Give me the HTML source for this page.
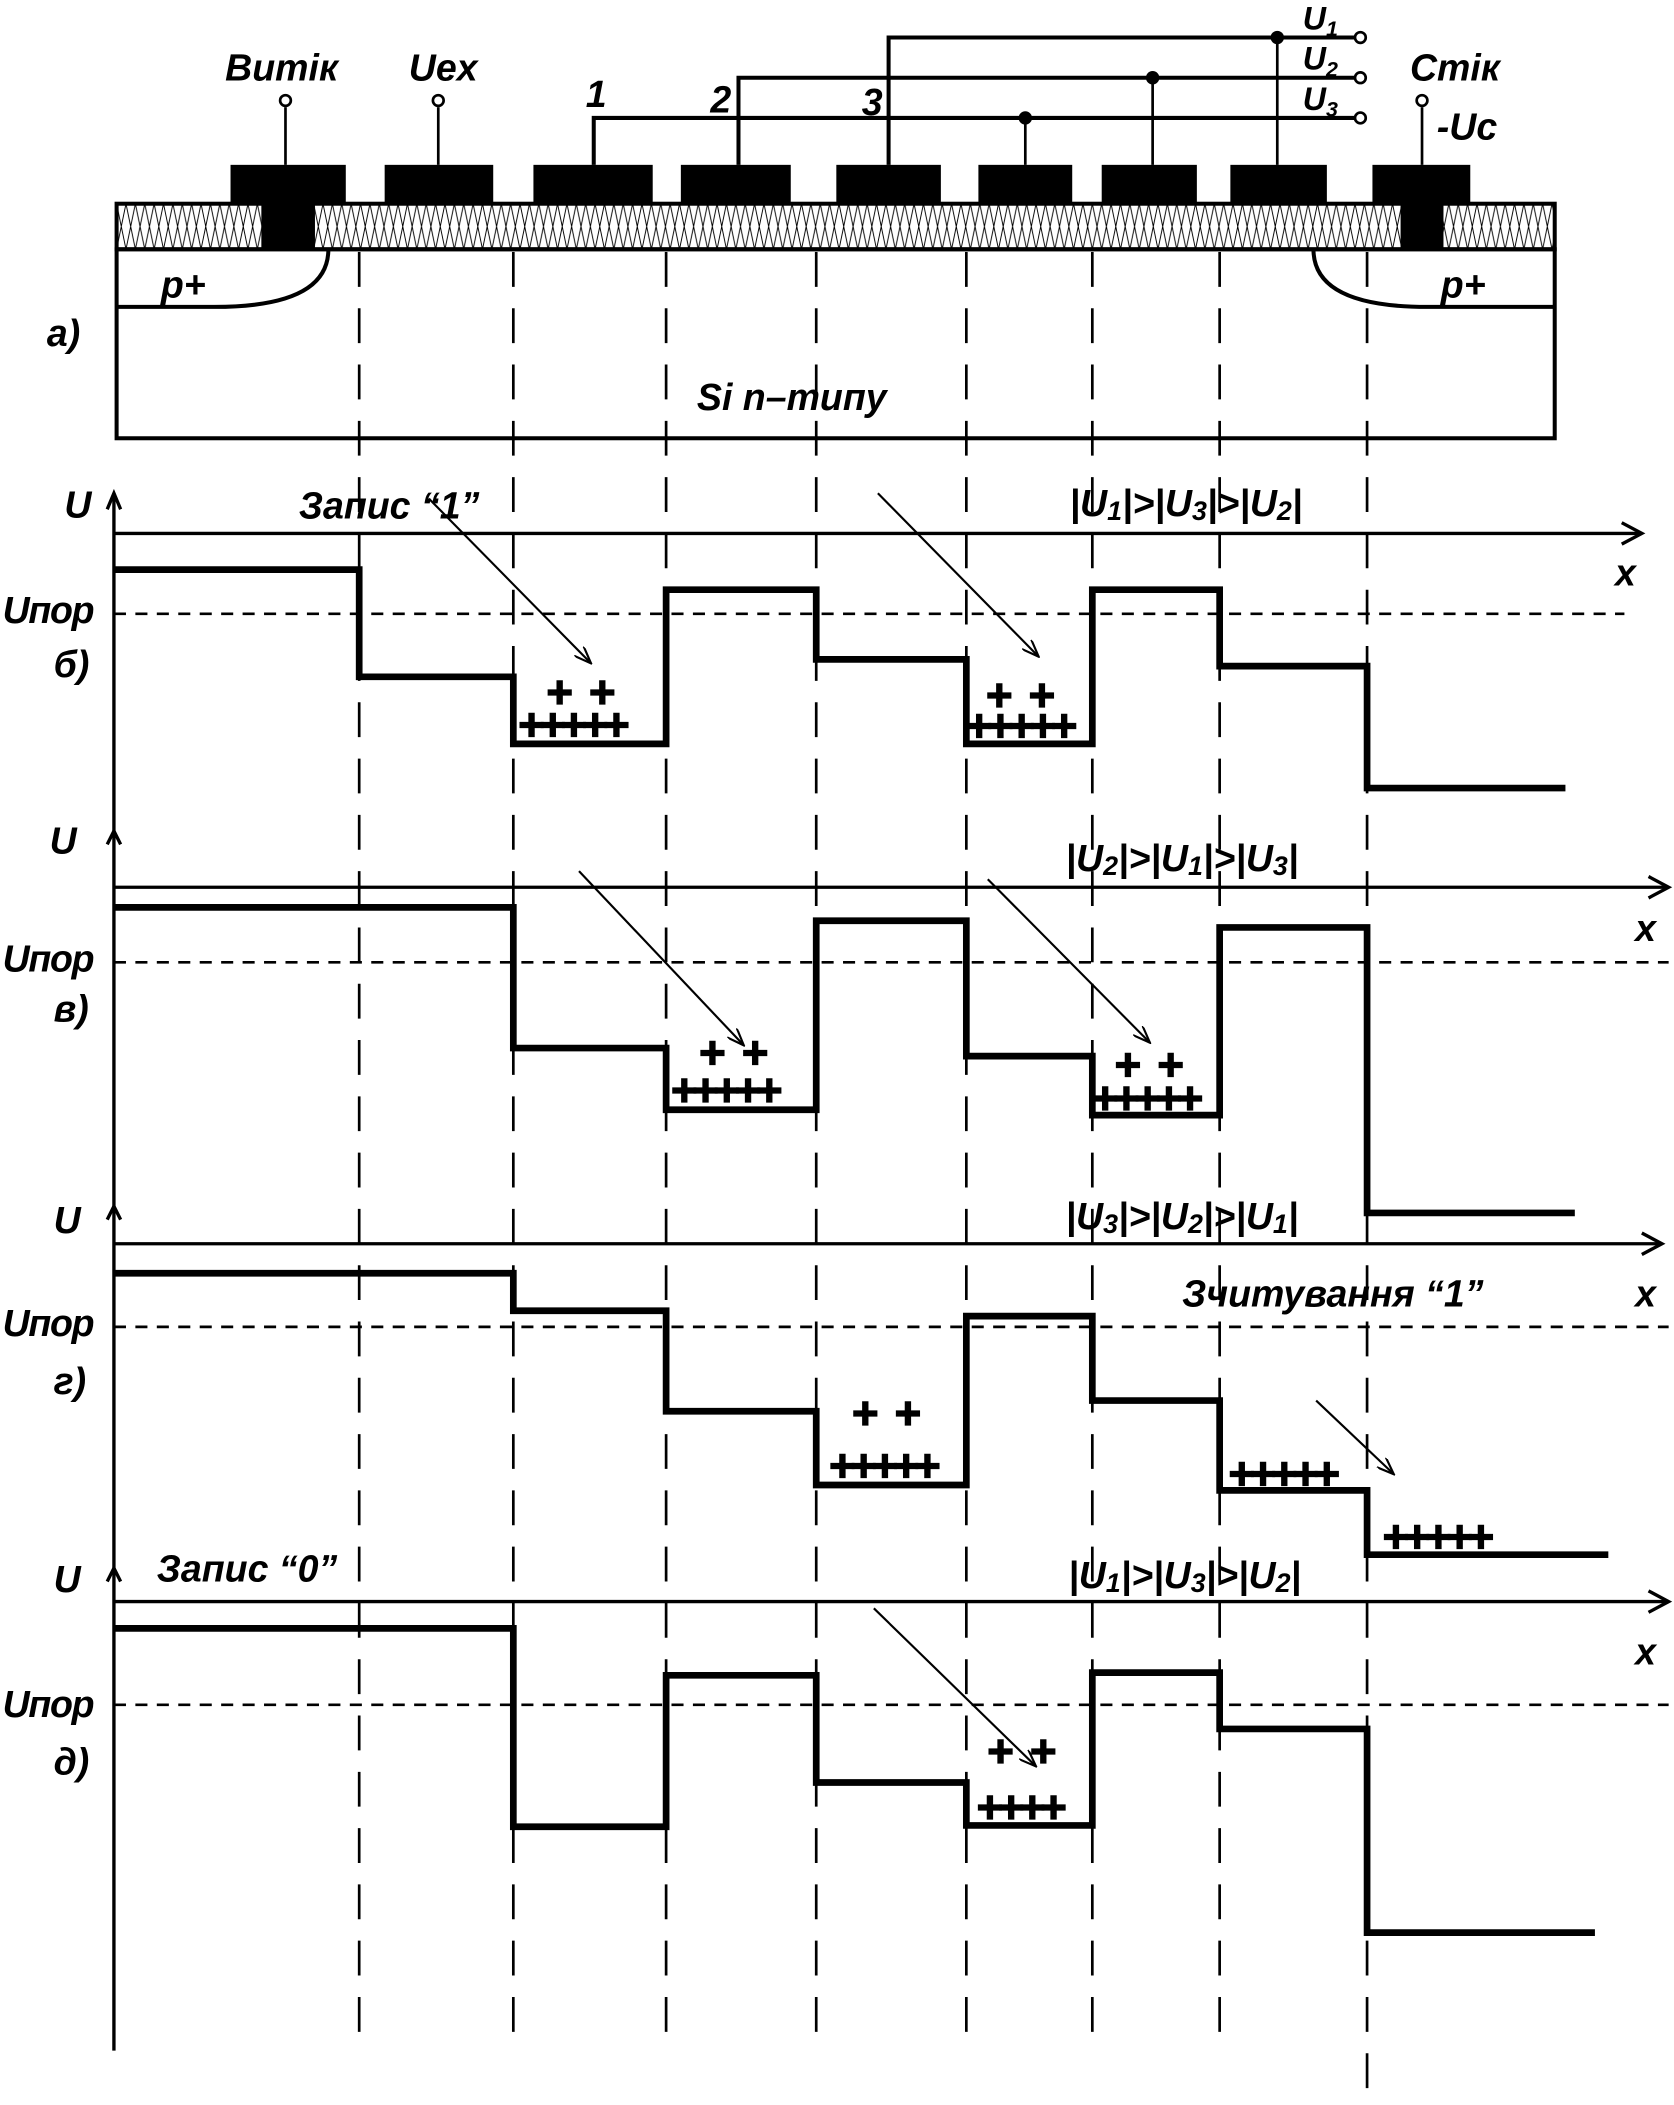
<!DOCTYPE html>
<html><head><meta charset="utf-8"><style>
html,body{margin:0;padding:0;background:#fff}
svg{display:block}
text{font-family:"Liberation Sans",sans-serif;font-weight:bold;font-style:italic;fill:#000}
.p{font-style:normal;font-size:34px;stroke:#000;stroke-width:1}
</style></head><body>
<svg width="1674" height="2105" viewBox="0 0 1249 1570.6" preserveAspectRatio="none" xmlns="http://www.w3.org/2000/svg">
<defs>
<pattern id="h" width="14" height="34" patternUnits="userSpaceOnUse" x="87" y="152">
<path d="M0,0 L7,34 M7,0 L14,34 M7,0 L0,34 M14,0 L7,34" stroke="#000" stroke-width="0.7"/>
</pattern>
<marker id="ar" markerWidth="14" markerHeight="10" refX="13" refY="5" orient="auto" markerUnits="userSpaceOnUse">
<path d="M0,0 L13,5 L0,10" fill="none" stroke="#000" stroke-width="1.6"/>
</marker>
</defs>
<rect x="87" y="152" width="1073" height="34" fill="url(#h)" stroke="#000" stroke-width="3"/>
<rect x="87" y="186" width="1073" height="141" fill="none" stroke="#000" stroke-width="3"/>
<path d="M87,229 L160,229 Q245,229 245,186" fill="none" stroke="#000" stroke-width="3"/>
<path d="M1160,229 L1065,229 Q980,229 980,186" fill="none" stroke="#000" stroke-width="3"/>
<g fill="#000">
<rect x="172" y="123" width="86" height="29"/><rect x="195" y="150" width="40" height="36"/>
<rect x="287" y="123" width="81" height="29"/>
<rect x="398" y="123" width="89" height="29"/>
<rect x="508" y="123" width="82" height="29"/>
<rect x="624" y="123" width="78" height="29"/>
<rect x="730" y="123" width="70" height="29"/>
<rect x="822" y="123" width="71" height="29"/>
<rect x="918" y="123" width="72" height="29"/>
<rect x="1024" y="123" width="73" height="29"/><rect x="1045" y="150" width="32" height="36"/>
</g>
<g stroke="#000" stroke-width="2" fill="none">
<line x1="213" y1="80" x2="213" y2="123"/><circle cx="213" cy="75" r="4" fill="#fff"/>
<line x1="327" y1="80" x2="327" y2="123"/><circle cx="327" cy="75" r="4" fill="#fff"/>
<line x1="1061" y1="80" x2="1061" y2="123"/><circle cx="1061" cy="75" r="4" fill="#fff"/>
<polyline points="443,123 443,88 1011,88" stroke-width="3"/>
<polyline points="551,123 551,58 1011,58" stroke-width="3"/>
<polyline points="663,123 663,28 1011,28" stroke-width="3"/>
<line x1="765" y1="88" x2="765" y2="123"/>
<line x1="860" y1="58" x2="860" y2="123"/>
<line x1="953" y1="28" x2="953" y2="123"/>
<circle cx="1015" cy="88" r="4" fill="#fff"/><circle cx="1015" cy="58" r="4" fill="#fff"/><circle cx="1015" cy="28" r="4" fill="#fff"/>
</g>
<g fill="#000"><circle cx="765" cy="88" r="5"/><circle cx="860" cy="58" r="5"/><circle cx="953" cy="28" r="5"/></g>
<text x="168" y="60" font-size="28">Витік</text>
<text x="305" y="60" font-size="28">Uex</text>
<text x="437" y="80" font-size="28" font-style="normal">1</text>
<text x="530" y="84" font-size="28" font-style="normal">2</text>
<text x="643" y="86" font-size="28" font-style="normal">3</text>
<text x="972" y="22" font-size="24" font-style="normal" font-family="Liberation Serif">U<tspan font-size="16" dy="5">1</tspan></text>
<text x="972" y="52" font-size="24" font-style="normal" font-family="Liberation Serif">U<tspan font-size="16" dy="5">2</tspan></text>
<text x="972" y="82" font-size="24" font-style="normal" font-family="Liberation Serif">U<tspan font-size="16" dy="5">3</tspan></text>
<text x="1052" y="60" font-size="28">Стік</text>
<text x="1072" y="104" font-size="28">-Uc</text>
<text x="120" y="222" font-size="28" font-style="normal">p+</text>
<text x="1075" y="222" font-size="28" font-style="normal">p+</text>
<text x="35" y="258" font-size="28">а)</text>
<text x="520" y="306" font-size="28">Si n–типу</text>
<g stroke="#000" stroke-width="2" stroke-dasharray="26,16">
<line x1="268" y1="188" x2="268" y2="1530"/><line x1="383" y1="188" x2="383" y2="1530"/>
<line x1="497" y1="188" x2="497" y2="1530"/><line x1="609" y1="188" x2="609" y2="1530"/>
<line x1="721" y1="188" x2="721" y2="1530"/><line x1="815" y1="188" x2="815" y2="1530"/>
<line x1="910" y1="188" x2="910" y2="1530"/><line x1="1020" y1="188" x2="1020" y2="1570"/>
</g>
<g stroke="#000" stroke-width="2.5" fill="none">
<line x1="85" y1="1530" x2="85" y2="368"/>
<polyline points="80,380 85,368 90,380"/>
<polyline points="80,630 85,620 90,630"/>
<polyline points="80,910 85,900 90,910"/>
<polyline points="80,1180 85,1170 90,1180"/>
<line x1="85" y1="398" x2="1225" y2="398"/><polyline points="1210,390 1225,398 1210,406"/>
<line x1="85" y1="662" x2="1245" y2="662"/><polyline points="1230,654 1245,662 1230,670"/>
<line x1="85" y1="928" x2="1240" y2="928"/><polyline points="1225,920 1240,928 1225,936"/>
<line x1="85" y1="1195" x2="1245" y2="1195"/><polyline points="1230,1187 1245,1195 1230,1203"/>
</g>
<g stroke="#000" stroke-width="2" stroke-dasharray="9,7">
<line x1="85" y1="458" x2="1212" y2="458"/>
<line x1="85" y1="718" x2="1245" y2="718"/>
<line x1="85" y1="990" x2="1245" y2="990"/>
<line x1="85" y1="1272" x2="1245" y2="1272"/>
</g>
<g stroke="#000" stroke-width="5" fill="none">
<polyline points="85,425 268,425 268,505 383,505 383,555 497,555 497,440 609,440 609,492 721,492 721,555 815,555 815,440 910,440 910,497 1020,497 1020,588 1168,588"/>
<polyline points="85,677 383,677 383,782 497,782 497,828 609,828 609,687 721,687 721,788 815,788 815,832 910,832 910,692 1020,692 1020,905 1175,905"/>
<polyline points="85,950 383,950 383,978 497,978 497,1053 609,1053 609,1108 721,1108 721,982 815,982 815,1045 910,1045 910,1112 1020,1112 1020,1160 1200,1160"/>
<polyline points="85,1215 383,1215 383,1363 497,1363 497,1250 609,1250 609,1330 721,1330 721,1362 815,1362 815,1248 910,1248 910,1290 1020,1290 1020,1442 1190,1442"/>
</g>
<g stroke="#000" stroke-width="1.6" marker-end="url(#ar)">
<line x1="320" y1="372" x2="441" y2="495"/>
<line x1="655" y1="368" x2="775" y2="490"/>
<line x1="432" y1="650" x2="555" y2="780"/>
<line x1="737" y1="656" x2="858" y2="778"/>
<line x1="982" y1="1045" x2="1040" y2="1100"/>
<line x1="652" y1="1200" x2="773" y2="1318"/>
</g>
<g class="p">
<text x="407" y="528" letter-spacing="12">++</text><text x="386" y="552" letter-spacing="-4">+++++</text>
<text x="735" y="530" letter-spacing="12">++</text><text x="720" y="553" letter-spacing="-4">+++++</text>
<text x="521" y="797" letter-spacing="12">++</text><text x="500" y="825" letter-spacing="-4">+++++</text>
<text x="831" y="806" letter-spacing="12">++</text><text x="814" y="831" letter-spacing="-4">+++++</text>
<text x="635" y="1066" letter-spacing="12">++</text><text x="618" y="1105" letter-spacing="-4">+++++</text>
<text x="916" y="1111" letter-spacing="-4">+++++</text>
<text x="1031" y="1158" letter-spacing="-4">+++++</text>
<text x="736" y="1318" letter-spacing="12">++</text><text x="728" y="1360" letter-spacing="-4">++++</text>
</g>
<g font-size="28">
<text x="48" y="386">U</text><text x="37" y="637">U</text><text x="40" y="920">U</text><text x="40" y="1188">U</text>
<text x="1205" y="437">x</text><text x="1220" y="702">x</text><text x="1220" y="975">x</text><text x="1220" y="1242">x</text>
<text x="2" y="465" letter-spacing="-1">Uпор</text><text x="40" y="505">б)</text>
<text x="2" y="725" letter-spacing="-1">Uпор</text><text x="40" y="762">в)</text>
<text x="2" y="997" letter-spacing="-1">Uпор</text><text x="40" y="1040">г)</text>
<text x="2" y="1281" letter-spacing="-1">Uпор</text><text x="40" y="1324">д)</text>
<text x="223" y="387">Запис “1”</text>
<text x="882" y="975">Зчитування “1”</text>
<text x="117" y="1180">Запис “0”</text>
<text x="798" y="385">|U<tspan font-size="20" dy="3">1</tspan><tspan dy="-3">|&gt;|U</tspan><tspan font-size="20" dy="3">3</tspan><tspan dy="-3">|&gt;|U</tspan><tspan font-size="20" dy="3">2</tspan><tspan dy="-3">|</tspan></text>
<text x="795" y="650">|U<tspan font-size="20" dy="3">2</tspan><tspan dy="-3">|&gt;|U</tspan><tspan font-size="20" dy="3">1</tspan><tspan dy="-3">|&gt;|U</tspan><tspan font-size="20" dy="3">3</tspan><tspan dy="-3">|</tspan></text>
<text x="795" y="917">|U<tspan font-size="20" dy="3">3</tspan><tspan dy="-3">|&gt;|U</tspan><tspan font-size="20" dy="3">2</tspan><tspan dy="-3">|&gt;|U</tspan><tspan font-size="20" dy="3">1</tspan><tspan dy="-3">|</tspan></text>
<text x="797" y="1185">|U<tspan font-size="20" dy="3">1</tspan><tspan dy="-3">|&gt;|U</tspan><tspan font-size="20" dy="3">3</tspan><tspan dy="-3">|&gt;|U</tspan><tspan font-size="20" dy="3">2</tspan><tspan dy="-3">|</tspan></text>
</g>
</svg>
</body></html>
